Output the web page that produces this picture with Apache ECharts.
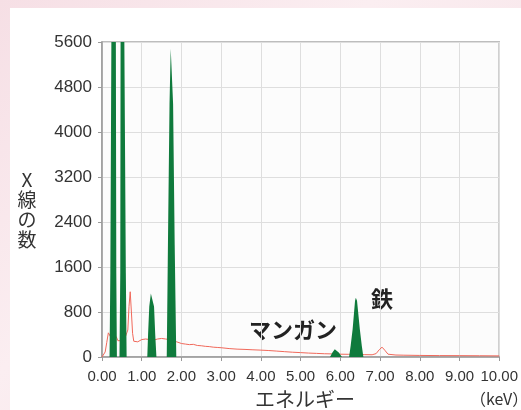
<!DOCTYPE html>
<html>
<head>
<meta charset="utf-8">
<script src="https://cdn.jsdelivr.net/npm/echarts@6/dist/echarts.min.js"></script>
<style>
  html, body { margin: 0; padding: 0; }
  body { width: 521px; height: 410px; background: linear-gradient(135deg, #f6dfe5, #fbeef1 40%, #f4dde3); position: relative; overflow: hidden; }
  #panel { position: absolute; left: 10px; top: 8px; width: 511px; height: 402px; background: #fff; }
  #xray { position: absolute; left: 0; top: 0; width: 521px; height: 410px; }
</style>
</head>
<body>
<div id="panel"></div>
<div id="xray"></div>
<script>
// 背景スペクトル（赤線）
var redEnergy = [0.00,0.04,0.08,0.12,0.16,0.19,0.24,0.30,0.36,0.40,0.44,0.50,0.56,0.61,0.65,0.68,0.71,0.74,0.77,0.80,0.85,0.90,0.95,1.00,1.05,1.10,1.20,1.30,1.40,1.45,1.50,1.55,1.60,1.65,1.70,1.80,1.88,1.92,2.00,2.10,2.20,2.30,2.40,2.50,2.60,2.70,2.80,2.90,3.00,3.20,3.40,3.60,3.80,4.00,4.20,4.40,4.60,4.80,5.00,5.20,5.40,5.60,5.80,6.00,6.20,6.40,6.60,6.80,6.90,6.98,7.05,7.12,7.20,7.40,7.60,8.00,8.50,9.00,9.50,10.00];
var redCounts = [0,15,90,260,430,400,330,310,360,290,270,290,300,310,480,900,1160,800,420,280,250,270,300,310,300,320,310,300,320,310,330,310,320,300,310,300,270,250,240,230,220,225,205,200,190,185,175,170,165,150,140,135,128,122,115,105,95,85,78,70,64,58,55,50,48,46,42,40,60,130,175,120,50,35,32,28,25,24,22,20];

// 元素ピーク（緑）
var greenEnergy = [0.19,0.21,0.245,0.345,0.36,0.375, 0.44,0.46,0.47,0.55,0.60,0.62, 1.14,1.16,1.19,1.23,1.28,1.31,1.34,1.37, 1.63,1.645,1.66,1.70,1.73,1.76,1.79,1.83,1.85,1.87, 5.74,5.80,5.86,5.90,5.96,6.04, 6.22,6.26,6.31,6.37,6.39,6.42,6.49,6.54,6.58];
var greenCounts = [0,1500,7000,7000,1500,0, 0,1500,7000,7000,1500,0, 0,400,900,1130,1130,900,400,0, 0,1000,2000,4500,5480,5480,4500,2000,1000,0, 0,80,140,140,80,0, 0,200,500,1000,1054,1000,500,200,0];

var yTicks = [0, 800, 1600, 2400, 3200, 4000, 4800, 5600];

function pairs(xs, ys) {
  var out = [];
  for (var i = 0; i < xs.length; i++) out.push([xs[i], ys[i]]);
  return out;
}

var chart = echarts.init(document.getElementById('xray'), null, { renderer: 'canvas' });

var option = {
  backgroundColor: 'transparent',
  animation: false,
  grid: {
    left: 102, top: 42, right: 18, bottom: 53,
    show: true,
    backgroundColor: '#fcfcfc',
    borderColor: '#a8a8a8',
    borderWidth: 1.5
  },
  xAxis: {
    type: 'value',
    min: 0, max: 10, interval: 1,
    axisLine: { show: true, lineStyle: { color: '#9a9a9a', width: 1.5 } },
    axisTick: { show: true, length: 4, lineStyle: { color: '#9a9a9a' } },
    axisLabel: {
      color: '#333', fontSize: 15, margin: 12,
      fontFamily: 'Liberation Sans',
      formatter: function (v) { return v.toFixed(2); }
    },
    splitLine: { show: true, lineStyle: { color: '#dedede' } }
  },
  yAxis: {
    type: 'value',
    min: yTicks[0], max: yTicks[yTicks.length - 1], interval: 800,
    axisLine: { show: true, lineStyle: { color: '#9a9a9a', width: 1.5 } },
    axisTick: { show: true, length: 4, lineStyle: { color: '#9a9a9a' } },
    axisLabel: {
      color: '#333', fontSize: 17, margin: 10, fontFamily: 'Liberation Sans',
      formatter: function (v) { return String(v); }
    },
    splitLine: { show: true, lineStyle: { color: '#dedede' } }
  },
  graphic: [
    { type: 'text', x: 27, y: 170, style: { text: 'X\n線\nの\n数', font: '19px "Noto Sans CJK JP"', fill: '#333', lineHeight: 20, align: 'center' } },
    { type: 'text', left: 255, top: 389, style: { text: 'エネルギー', font: '20px "Noto Sans CJK JP"', fill: '#333' } },
    { type: 'text', left: 470, top: 391, style: { text: '（keV）', font: '16px "Noto Sans CJK JP"', fill: '#333' } },
    { type: 'text', left: 249, top: 319, style: { text: 'マンガン', font: 'bold 22px "Noto Sans CJK JP"', fill: '#222' } },
    { type: 'text', left: 371, top: 288, style: { text: '鉄', font: 'bold 22px "Noto Sans CJK JP"', fill: '#222' } }
  ],
  series: [
    {
      name: 'background',
      type: 'line',
      data: pairs(redEnergy, redCounts),
      showSymbol: false,
      lineStyle: { color: '#f0685a', width: 1 },
      z: 2
    },
    {
      name: 'peaks',
      type: 'line',
      data: pairs(greenEnergy, greenCounts),
      showSymbol: false,
      lineStyle: { width: 0 },
      areaStyle: { color: '#0f7a3c', opacity: 1 },
      z: 3
    }
  ]
};

chart.setOption(option);
</script>
</body>
</html>
